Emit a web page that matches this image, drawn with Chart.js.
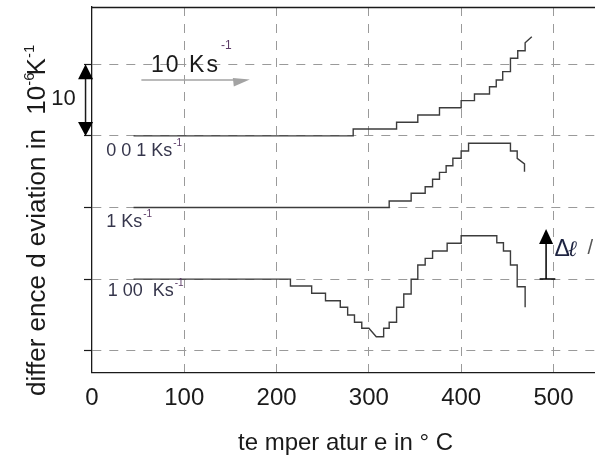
<!DOCTYPE html>
<html>
<head>
<meta charset="utf-8">
<script src="https://cdn.jsdelivr.net/npm/chart.js@4.4.1/dist/chart.umd.min.js"></script>
<style>
  html, body { margin: 0; padding: 0; background: #fff; }
</style>
</head>
<body>
<canvas id="myChart" width="595" height="456"></canvas>
<script>
// temperature (°C) / deviation (1e-6 K^-1) vertices of each heating-rate curve
let tempSlow = [45, 283, 283, 330, 330, 353, 353, 376.5, 376.5, 400, 400, 414.4, 414.4, 430.7, 430.7, 438, 438, 445, 445, 453.4, 453.4, 461.3, 461.3, 469.3, 469.3, 476.5];
let devSlow = [30, 30, 30.96, 30.96, 31.9, 31.9, 32.92, 32.92, 33.94, 33.94, 34.92, 34.92, 35.85, 35.85, 36.87, 36.87, 37.8, 37.8, 38.97, 38.97, 40.84, 40.84, 41.9, 41.9, 43.0, 43.85];

let tempMid = [45, 322, 322, 345.8, 345.8, 361, 361, 369, 369, 376.5, 376.5, 383.7, 383.7, 391, 391, 400, 400, 408, 408, 453.4, 453.4, 460.7, 460.7, 468.6, 468.6];
let devMid = [20, 20, 20.9, 20.9, 21.98, 21.98, 22.9, 22.9, 23.94, 23.94, 24.9, 24.9, 25.84, 25.84, 26.87, 26.87, 27.9, 27.9, 28.97, 28.97, 27.9, 27.9, 26.87, 26.08, 25.0];

let tempFast = [45, 215, 215, 238, 238, 253, 253, 269, 269, 277, 277, 284.4, 284.4, 292.3, 292.3, 300, 308, 316, 316, 322, 322, 330, 330, 337.8, 337.8, 345.8, 345.8, 353, 353, 361, 361, 369, 369, 384.8, 384.8, 400, 400, 438.6, 438.6, 445.8, 445.8, 453.4, 453.4, 460.7, 460.7, 469.3, 469.3];
let devFast = [10, 10, 9.04, 9.04, 8.02, 8.02, 6.98, 6.98, 6.06, 6.06, 4.99, 4.99, 3.97, 3.97, 3.13, 3.13, 1.96, 1.96, 3.13, 3.13, 3.97, 3.97, 6.06, 6.06, 7.92, 7.92, 9.97, 9.97, 11.97, 11.97, 12.9, 12.9, 13.92, 13.92, 15.0, 15.0, 16.06, 16.06, 15.08, 15.08, 13.92, 13.92, 11.97, 11.97, 8.94, 8.94, 6.06];

let xTicks = [0, 100, 200, 300, 400, 500];
let yGrid = [0, 10, 20, 30, 40];

let font = "'Liberation Sans', Arial, sans-serif";
let ink = '#1a1a1a';

function toPoints(temps, devs) {
  return temps.map((t, i) => ({ x: t, y: devs[i] }));
}

function curve(temps, devs) {
  return {
    data: toPoints(temps, devs),
    borderColor: '#3c3c3c',
    borderWidth: 1.4,
    pointRadius: 0,
    tension: 0,
    fill: false
  };
}

function arrowHead(ctx, x, y, dir, half, len) {
  // dir: -1 points up, +1 points down
  ctx.beginPath();
  ctx.moveTo(x, y);
  ctx.lineTo(x - half, y - dir * len);
  ctx.lineTo(x + half, y - dir * len);
  ctx.closePath();
  ctx.fill();
}

function label(ctx, x, y, main, sup, size) {
  ctx.font = size + 'px ' + font;
  ctx.textBaseline = 'middle';
  ctx.textAlign = 'left';
  ctx.fillText(main, x, y);
  let w = ctx.measureText(main).width;
  ctx.font = Math.round(size * 0.55) + 'px ' + font;
  ctx.fillStyle = '#5b3a66';
  ctx.fillText(sup, x + w + 1, y - size * 0.45);
}

let annotations = {
  id: 'annotations',
  afterDraw(chart) {
    let { ctx, chartArea, scales: { x, y } } = chart;
    let px = v => x.getPixelForValue(v);
    let py = v => y.getPixelForValue(v);
    ctx.save();

    // top frame line
    ctx.strokeStyle = ink;
    ctx.lineWidth = 1.3;
    ctx.beginPath();
    ctx.moveTo(chartArea.left, chartArea.top + 0.5);
    ctx.lineTo(chartArea.right, chartArea.top + 0.5);
    ctx.stroke();

    // scale bar: 10 units
    let bx = px(-7);
    ctx.fillStyle = '#000';
    ctx.lineWidth = 1.5;
    ctx.beginPath();
    ctx.moveTo(bx, py(40) + 8);
    ctx.lineTo(bx, py(30) - 8);
    ctx.stroke();
    arrowHead(ctx, bx, py(40), -1, 7.5, 15);
    arrowHead(ctx, bx, py(30), 1, 7.5, 14);
    ctx.fillStyle = ink;
    ctx.font = '22px ' + font;
    ctx.textAlign = 'center';
    ctx.textBaseline = 'middle';
    ctx.fillText('10', px(-31), py(35.15));

    // heating rate direction arrow
    let ay = py(37.8);
    let tip = px(171);
    ctx.strokeStyle = '#a3a3a3';
    ctx.fillStyle = '#a3a3a3';
    ctx.lineWidth = 1.6;
    ctx.beginPath();
    ctx.moveTo(px(53.5), ay);
    ctx.lineTo(tip - 12, ay);
    ctx.stroke();
    ctx.beginPath();
    ctx.moveTo(tip, ay - 0.5);
    ctx.lineTo(tip - 17, ay - 2);
    ctx.lineTo(tip - 16, ay + 6.5);
    ctx.closePath();
    ctx.fill();

    ctx.fillStyle = ink;
    ctx.font = '23px ' + font;
    ctx.textAlign = 'left';
    ctx.textBaseline = 'alphabetic';
    ctx.letterSpacing = '2px';
    let t10 = '10 Ks';
    ctx.fillText(t10, px(64), py(38.92));
    let w10 = ctx.measureText(t10).width;
    ctx.letterSpacing = '0px';
    ctx.font = '12px ' + font;
    ctx.fillStyle = '#5b3a66';
    ctx.fillText('-1', px(64) + w10 + 1, py(42.2));

    // curve labels
    ctx.fillStyle = '#36364c';
    label(ctx, px(15.4), py(27.9), '0 0 1 Ks', '-1', 18);
    ctx.fillStyle = '#36364c';
    label(ctx, px(15.4), py(17.95), '1 Ks', '-1', 18);
    ctx.fillStyle = '#36364c';
    label(ctx, px(17), py(8.27), '1 00  Ks', '-1', 18);

    // length change arrow
    let dx = px(492);
    ctx.strokeStyle = '#000';
    ctx.fillStyle = '#000';
    ctx.lineWidth = 1.5;
    ctx.beginPath();
    ctx.moveTo(dx, py(10));
    ctx.lineTo(dx, py(17) + 10);
    ctx.moveTo(px(485), py(10));
    ctx.lineTo(px(502), py(10));
    ctx.stroke();
    arrowHead(ctx, dx, py(17), -1, 7, 15);

    ctx.fillStyle = '#1d2340';
    ctx.textBaseline = 'middle';
    ctx.font = '23px ' + font;
    let dl = px(501);
    ctx.fillText('Δ', dl, py(14.06));
    let wd = ctx.measureText('Δ').width;
    ctx.font = "italic 22px 'DejaVu Serif', serif";
    ctx.fillText('ℓ', dl + wd - 2, py(14.06));
    ctx.fillStyle = '#555';
    ctx.font = '20px ' + font;
    ctx.fillText('/', dl + 33, py(14.3));

    // axis titles
    ctx.fillStyle = ink;
    ctx.font = '24px ' + font;
    ctx.textAlign = 'center';
    ctx.textBaseline = 'alphabetic';
    ctx.fillText('te mper atur e in ° C', (chartArea.left + chartArea.right) / 2 + 2, 450);

    ctx.translate(44.5, 396);
    ctx.rotate(-Math.PI / 2);
    ctx.textAlign = 'left';
    let pos = 0;
    let piece = (txt, size, rise) => {
      ctx.font = size + 'px ' + font;
      ctx.fillText(txt, pos, -rise);
      pos += ctx.measureText(txt).width;
    };
    piece('differ ence d eviation in  10', 26, 0);
    piece('-6', 15, 11);
    pos -= 3;
    piece('K', 26, 0);
    piece('-1', 15, 11);

    ctx.restore();
  }
};

let chart = new Chart(document.getElementById('myChart').getContext('2d'), {
  type: 'line',
  data: {
    datasets: [
      curve(tempSlow, devSlow),
      curve(tempMid, devMid),
      curve(tempFast, devFast)
    ]
  },
  options: {
    responsive: false,
    animation: false,
    layout: { padding: { left: 84, top: 7, right: 0, bottom: 31 } },
    plugins: {
      legend: { display: false },
      tooltip: { enabled: false }
    },
    scales: {
      x: {
        type: 'linear',
        min: 0,
        max: 545,
        afterBuildTicks: s => { s.ticks = xTicks.map(v => ({ value: v })); },
        grid: {
          color: c => (c.tick && c.tick.value === 0) ? 'rgba(0,0,0,0)' : '#9a9a9a',
          drawTicks: false
        },
        border: { color: ink, width: 1.3, dash: [9, 8] },
        ticks: {
          font: { family: font, size: 24 },
          color: ink,
          padding: 12,
          maxRotation: 0,
          autoSkip: false
        }
      },
      y: {
        type: 'linear',
        min: -3,
        max: 48,
        afterBuildTicks: s => { s.ticks = yGrid.map(v => ({ value: v })); },
        grid: { color: '#9a9a9a', tickColor: ink, tickLength: 8, tickWidth: 1.2 },
        border: { color: ink, width: 1.3, dash: [9, 8] },
        ticks: { display: false }
      }
    }
  },
  plugins: [annotations]
});
</script>
</body>
</html>
